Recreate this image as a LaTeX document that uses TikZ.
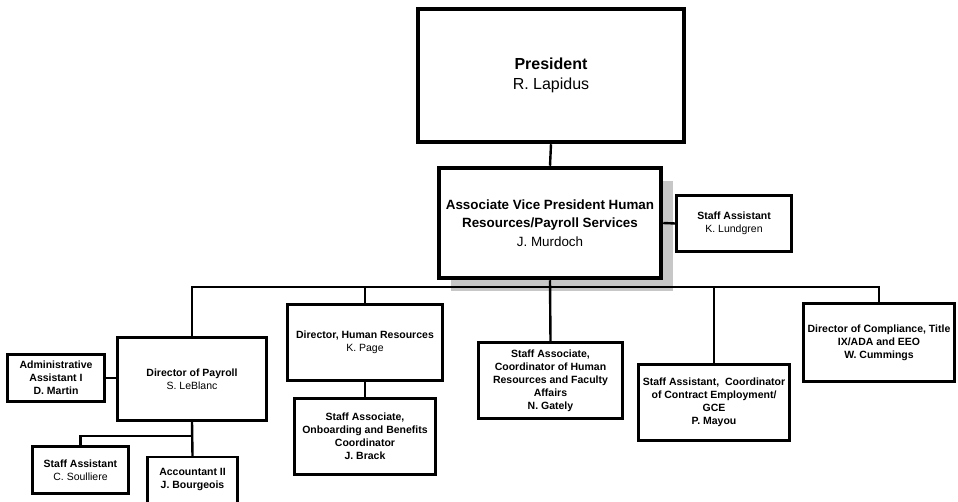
\documentclass[tikz,border=0pt]{standalone}
\usepackage{fontspec}
\setmainfont{Liberation Sans}
\usetikzlibrary{shadows}
\begin{document}
\begin{tikzpicture}[x=1pt,y=-1pt,
  box/.style={draw=black, fill=white, line width=2.3pt, align=center, inner sep=0pt,
    font=\fontsize{10.5}{13}\selectfont\bfseries},
  bigbox/.style={box, line width=4.5pt},
  wire/.style={draw=black, line width=2.4pt}]
\useasboundingbox (0,0) rectangle (958,502);
\fill[white] (0,0) rectangle (958,502);

% top of the chart
\node[bigbox, minimum width=266pt, minimum height=133pt,
  font=\fontsize{16}{20}\selectfont] (pres) at (551,75.5)
  {\textbf{President}\\\mdseries R. Lapidus};
\node[bigbox, minimum width=222pt, minimum height=110pt,
  font=\fontsize{13.4}{17.5}\selectfont\bfseries,
  drop shadow={shadow xshift=12pt, shadow yshift=-13pt, fill=black!22, opacity=1}]
  (avp) at (550,223)
  {Associate Vice President Human\\Resources/Payroll Services\\[1.5pt]\mdseries J. Murdoch};
\node[box, minimum width=115pt, minimum height=56pt] (lund) at (734,223.5)
  {Staff Assistant\\\mdseries K. Lundgren};

% second row
\node[box, minimum width=149pt, minimum height=83pt] (payroll) at (192,379)
  {Director of Payroll\\\mdseries S. LeBlanc};
\node[box, minimum width=97pt, minimum height=47pt] (admin) at (56,378)
  {Administrative\\Assistant I\\D. Martin};
\node[box, minimum width=155pt, minimum height=76pt] (hr) at (365,342.5)
  {Director, Human Resources\\\mdseries K. Page};
\node[box, minimum width=144pt, minimum height=76pt] (gately) at (550.5,380.5)
  {Staff Associate,\\Coordinator of Human\\Resources and Faculty\\Affairs\\N. Gately};
\node[box, minimum width=151pt, minimum height=76pt] (mayou) at (714,402.5)
  {Staff Assistant,~ Coordinator\\of Contract Employment/\\GCE\\P. Mayou};
\node[box, minimum width=151pt, minimum height=78pt] (comp) at (879,342.5)
  {Director of Compliance, Title\\IX/ADA and EEO\\W. Cummings};

% third row
\node[box, minimum width=141pt, minimum height=76pt] (brack) at (365,436.5)
  {Staff Associate,\\Onboarding and Benefits\\Coordinator\\J. Brack};
\node[box, minimum width=96pt, minimum height=47pt] (soul) at (80.5,470)
  {Staff Assistant\\\mdseries C. Soulliere};
\node[box, minimum width=90pt, minimum height=56pt] (acct) at (192.5,485)
  {Accountant II\\J. Bourgeois\\\mbox{}};

% connectors
\coordinate (bus) at (550,287);
\coordinate (split) at (192,436);
\draw[wire] (pres.south) -- (avp.north);
\draw[wire] (avp.east) -- (lund.west);
\draw[wire] (avp.south) -- (gately.north);
\draw[wire] (payroll.north) |- (bus) -| (comp.north);
\draw[wire] (hr.north) -- (hr.north |- bus);
\draw[wire] (mayou.north) -- (mayou.north |- bus);
\draw[wire] (hr.south) -- (brack.north);
\draw[wire] (admin.east) -- (admin.east -| payroll.west);
\draw[wire] (payroll.south) -- (acct.north);
\draw[wire] (split) -| (soul.north);
\end{tikzpicture}
\end{document}
